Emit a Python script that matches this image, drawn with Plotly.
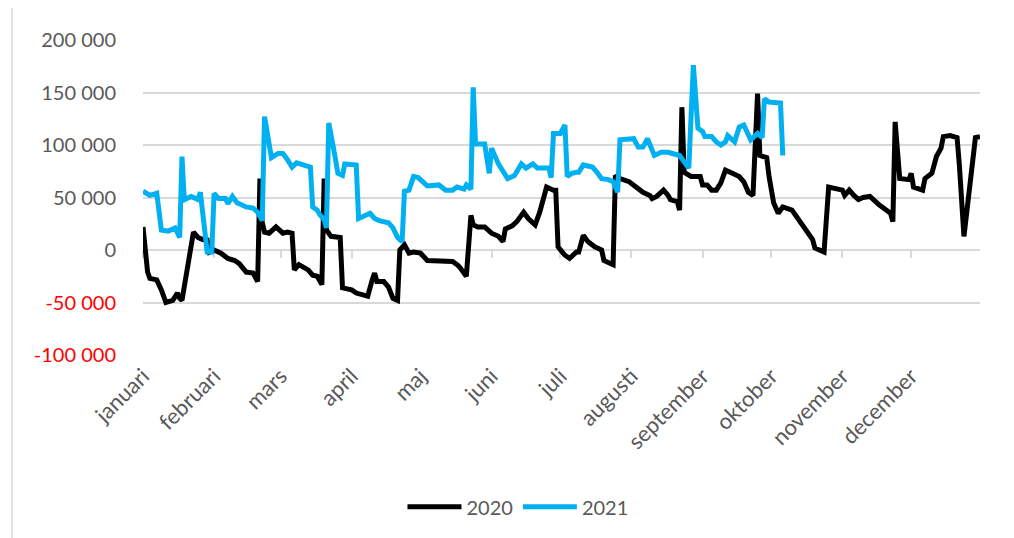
import pandas as pd
import plotly.graph_objects as go

# ---- data (day of year offset from 1 Jan, value) ----
days_2020 = [0, 2, 3, 6, 8, 10, 13, 15, 16, 17, 22, 24, 26, 28, 29, 31, 34, 37, 40, 42,
             45, 48, 50, 51, 52, 53, 55, 58, 61, 63, 65, 66, 68, 72, 74, 76, 78, 79, 80, 82,
             86, 87, 89, 91, 93, 96, 98, 100, 101, 102, 105, 107, 109, 111, 112, 114, 116, 118, 121, 124,
             126, 132, 135, 137, 138, 141, 143, 144, 146, 149, 152, 155, 157, 158, 161, 163, 166, 168, 171, 173,
             176, 179, 180, 181, 184, 186, 189, 190, 192, 194, 197, 200, 201, 205, 206, 208, 212, 215, 218, 221,
             222, 224, 227, 229, 230, 233, 234, 235, 236, 239, 243, 244, 246, 248, 250, 252, 254, 257, 260, 262,
             264, 266, 268, 269, 272, 273, 275, 277, 279, 283, 285, 288, 290, 292, 293, 297, 299, 302, 305, 306,
             308, 310, 312, 314, 317, 321, 324, 326, 327, 328, 330, 334, 335, 336, 340, 341, 344, 346, 348, 349,
             352, 355, 356, 358, 363, 365]
vals_2020 = [22000, -21000, -27000, -28500, -38000, -50000, -48000, -41000, -46000, -48000,
             17000, 12000, 10000, 9500, -2000, 0, -3000, -8000, -10000, -13000,
             -21000, -22000, -30000, 68000, 26000, 17000, 16000, 22000, 16000, 17000,
             16000, -19000, -14000, -19000, -24000, -25000, -33000, 68000, 19000, 13000,
             12000, -36000, -37000, -38000, -41000, -43000, -44000, -28000, -22000, -30000,
             -30000, -35000, -46000, -48000, 0, 5000, -3000, -2000, -3000, -10000,
             -10000, -11000, -11000, -14000, -16000, -25000, 33000, 24000, 22000, 22000,
             16000, 13000, 8000, 20000, 23000, 27000, 36000, 30000, 24000, 36000,
             60000, 57000, 57000, 3000, -5000, -8000, -2000, -2000, 14000, 8000,
             3000, 0, -10000, -14000, 71000, 68000, 65000, 60000, 55000, 52000,
             49000, 51000, 57000, 52000, 48000, 46000, 38000, 136000, 74000, 70000,
             70000, 62000, 62000, 57000, 57000, 64000, 76000, 73000, 70000, 65000,
             55000, 52000, 149000, 90000, 88000, 70000, 45000, 35000, 41000, 38000,
             32000, 22000, 16000, 10000, 2000, -2000, 60000, 59000, 57000, 52000,
             57000, 52000, 48000, 50000, 51000, 43000, 38000, 35000, 27000, 122000,
             68000, 67000, 73000, 60000, 57000, 68000, 73000, 89000, 97000, 108000,
             109000, 107000, 81000, 13000, 107000, 108000]

days_2021 = [0, 3, 6, 8, 11, 14, 16, 17, 18, 21, 24, 25, 28, 30, 31, 33, 36, 37, 39, 41,
             45, 48, 50, 52, 53, 56, 59, 61, 63, 65, 67, 71, 73, 74, 76, 77, 79, 80, 81, 83,
             85, 87, 88, 93, 94, 96, 99, 101, 103, 107, 109, 111, 113, 114, 116, 118, 120, 124, 129, 132,
             135, 137, 140, 141, 143, 144, 145, 149, 151, 152, 155, 157, 159, 162, 165, 167, 170, 172, 177, 178,
             179, 182, 184, 185, 187, 189, 190, 192, 196, 198, 200, 203, 205, 207, 208, 214, 216, 218, 220, 223,
             226, 229, 231, 234, 237, 238, 240, 242, 244, 245, 248, 250, 252, 254, 255, 258, 260, 262, 265, 268,
             270, 271, 273, 277, 278, 279]
vals_2021 = [56000, 52000, 54000, 19000, 18000, 21000, 12000, 89000, 48000, 51000,
             48000, 55000, -2000, -2000, 54000, 49000, 49000, 44000, 51000, 45000,
             41000, 40000, 36000, 28000, 127000, 88000, 92000, 92000, 86000, 79000,
             83000, 81000, 79000, 41000, 38000, 34000, 29000, 21000, 121000, 98000,
             73000, 71000, 82000, 81000, 30000, 32000, 35000, 30000, 28000, 26000,
             21000, 12000, 8000, 56000, 57000, 70000, 69000, 61000, 62000, 57000,
             57000, 60000, 58000, 62000, 58000, 155000, 101000, 101000, 73000, 97000,
             82000, 75000, 68000, 71000, 82000, 78000, 82000, 78000, 78000, 69000,
             111000, 111000, 119000, 70000, 73000, 74000, 74000, 81000, 79000, 74000,
             68000, 67000, 65000, 55000, 105000, 106000, 98000, 98000, 106000, 90000,
             93000, 93000, 92000, 90000, 81000, 78000, 176000, 116000, 113000, 108000,
             108000, 103000, 100000, 103000, 109000, 103000, 117000, 119000, 105000, 111000,
             107000, 144000, 141000, 141000, 140000, 90000]

month_starts = ["2020-01-01", "2020-02-01", "2020-03-01", "2020-04-01", "2020-05-01", "2020-06-01",
                "2020-07-01", "2020-08-01", "2020-09-01", "2020-10-01", "2020-11-01", "2020-12-01"]
month_labels = ["januari", "februari", "mars", "april", "maj", "juni", "juli", "augusti",
                "september", "oktober", "november", "december"]

y_ticks = [-100000, -50000, 0, 50000, 100000, 150000, 200000]
y_labels = ["-100 000", "-50 000", "0", "50 000", "100 000", "150 000", "200 000"]

# ---- build ----
base = pd.Timestamp("2020-01-01")
x2020 = base + pd.to_timedelta(days_2020, unit="D")
x2021 = base + pd.to_timedelta(days_2021, unit="D")

ytext = [f'<span style="color:#FF0000">{t}</span>' if v < 0 else t for v, t in zip(y_ticks, y_labels)]

FONT = "Lato"
GRID = "#d9d9d9"
TXT = "#595959"
xrange_ = ["2020-01-01", "2020-12-31"]

fig = go.Figure()
# empty helper trace so the bottom (label) axis is drawn
fig.add_trace(go.Scatter(x=month_starts, y=[None] * len(month_starts), mode="lines",
                         showlegend=False, hoverinfo="skip", xaxis="x"))
fig.add_trace(go.Scatter(x=x2020, y=vals_2020, mode="lines", name="2020", xaxis="x2",
                         line=dict(color="#000000", width=5)))
fig.add_trace(go.Scatter(x=x2021, y=vals_2021, mode="lines", name="2021", xaxis="x2",
                         line=dict(color="#00B0F0", width=5)))

fig.update_layout(
    width=1006, height=530,
    margin=dict(l=135, r=34, t=32, b=183),
    paper_bgcolor="white", plot_bgcolor="white",
    font=dict(family=FONT, color=TXT),
    showlegend=True,
    legend=dict(orientation="h", x=0.448, xanchor="center", y=-0.482, yanchor="middle",
                font=dict(size=20, color=TXT), itemwidth=54),
    xaxis=dict(type="date", range=xrange_, tickmode="array", tickvals=month_starts,
               ticktext=month_labels, tickangle=-45, showgrid=False, showline=False,
               zeroline=False, ticks="", tickfont=dict(size=22, color=TXT),
               ticklabelstandoff=3),
    xaxis2=dict(type="date", range=xrange_, overlaying="x", anchor="free", position=1/3,
                tickmode="array", tickvals=month_starts, showticklabels=False,
                ticks="outside", ticklen=7, tickwidth=1.5, tickcolor=GRID,
                showgrid=False, showline=False, zeroline=False, layer="below traces"),
    yaxis=dict(range=[-100000, 200000], tickmode="array", tickvals=y_ticks, ticktext=ytext,
               showgrid=True, gridcolor=GRID, gridwidth=1.5, zeroline=False, showline=False,
               tickfont=dict(size=20, color=TXT), ticklabelstandoff=26),
    shapes=[dict(type="line", xref="paper", yref="paper", x0=-0.1565, x1=-0.1565,
                 y0=-0.6, y1=1.15, line=dict(color=GRID, width=1.5))],
)

fig.write_html("out.html")
